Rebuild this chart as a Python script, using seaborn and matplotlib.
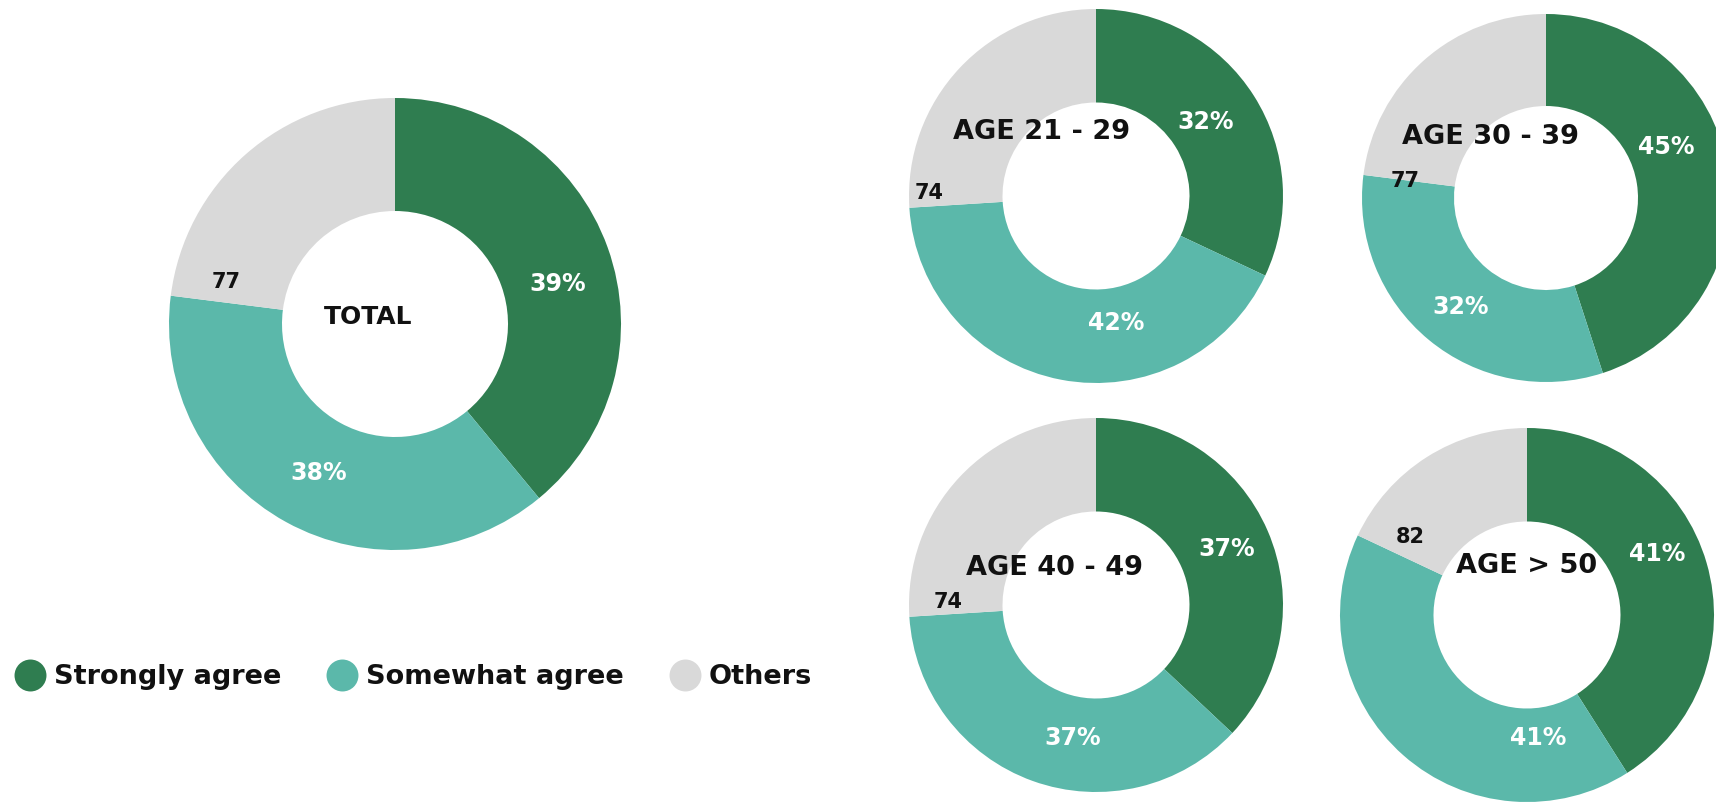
import numpy as np
import matplotlib
matplotlib.use("Agg")
import matplotlib.pyplot as plt
from matplotlib.lines import Line2D
import seaborn as sns

# ---- data -------------------------------------------------------------
categories = ["Strongly agree", "Somewhat agree", "Others"]
groups = ["TOTAL", "AGE 21 - 29", "AGE 30 - 39", "AGE 40 - 49", "AGE > 50"]
strongly_agree = [39, 32, 45, 37, 41]
somewhat_agree = [38, 42, 32, 37, 41]
others = [23, 26, 23, 26, 18]

# ---- style ------------------------------------------------------------
sns.set_theme(style="white")
plt.rcParams["font.family"] = ["DejaVu Sans"]
palette = sns.color_palette(["#2F7D50", "#5BB8AA", "#D9D9D9"])
INK = "#111111"

W, H = 1716, 802
fig = plt.figure(figsize=(W / 100, H / 100), dpi=100)
fig.patch.set_facecolor("white")

# panel layout: centre (px), outer radius (px), title offset (radius units),
# label placement (angle in degrees, radius in radius units)
layout = [
    dict(c=(395, 324), r=226, title=(-0.12, 0.03), tsize=18,
         lab=[(14, 0.74), (-117, 0.74)], tot=(166, 0.77)),
    dict(c=(1096, 196), r=187, title=(-0.29, 0.34), tsize=19.5,
         lab=[(34, 0.71), (-81, 0.69)], tot=(179, 0.89)),
    dict(c=(1546, 198), r=184, title=(-0.30, 0.33), tsize=19.5,
         lab=[(23, 0.71), (-128, 0.75)], tot=(173, 0.77)),
    dict(c=(1096, 605), r=187, title=(-0.22, 0.20), tsize=19.5,
         lab=[(23, 0.76), (-100, 0.72)], tot=(179, 0.79)),
    dict(c=(1527, 615), r=187, title=(0.0, 0.26), tsize=19.5,
         lab=[(25, 0.77), (-85, 0.66)], tot=(146, 0.75)),
]

for i, (name, spec) in enumerate(zip(groups, layout)):
    cx, cy = spec["c"]
    R = spec["r"]
    ax = fig.add_axes([(cx - R) / W, 1 - (cy + R) / H, 2 * R / W, 2 * R / H])
    vals = [strongly_agree[i], somewhat_agree[i], others[i]]
    ax.pie(vals, colors=palette, startangle=90, counterclock=False, radius=1,
           wedgeprops=dict(width=0.5, linewidth=0))
    ax.set_xlim(-1, 1)
    ax.set_ylim(-1, 1)
    ax.set_aspect("equal")
    ax.axis("off")

    # percentage labels on the two agree segments
    for v, (ang, rad) in zip(vals[:2], spec["lab"]):
        a = np.deg2rad(ang)
        ax.text(rad * np.cos(a), rad * np.sin(a), f"{v}%", color="white",
                fontsize=17, fontweight="bold", ha="center", va="center")

    # combined agreement figure next to the grey segment
    ang, rad = spec["tot"]
    a = np.deg2rad(ang)
    ax.text(rad * np.cos(a), rad * np.sin(a), f"{vals[0] + vals[1]}",
            color=INK, fontsize=15, fontweight="bold", ha="center", va="center")

    # group name in the hole
    tx, ty = spec["title"]
    ax.text(tx, ty, name, color=INK, fontsize=spec["tsize"],
            fontweight="bold", ha="center", va="center")

# legend
handles = [Line2D([], [], marker="o", linestyle="", markersize=23,
                  markerfacecolor=col, markeredgewidth=0)
           for col in palette]
leg = fig.legend(handles, categories, loc="center left",
                 bbox_to_anchor=(14 / W, 1 - 677 / H), ncol=3, frameon=False,
                 borderpad=0, borderaxespad=0, handlelength=1.2,
                 handletextpad=0.26, columnspacing=1.67,
                 prop=dict(size=19.5, weight="bold"))
for t in leg.get_texts():
    t.set_color(INK)

fig.savefig("out.png", dpi=100, facecolor="white")
